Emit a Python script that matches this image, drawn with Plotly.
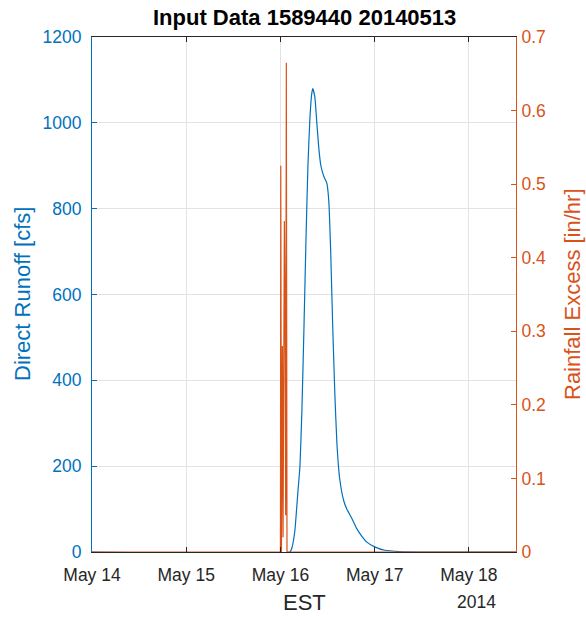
import plotly.graph_objects as go

# ---- data ----
runoff_time = [
    "2014-05-14 00:00", "2014-05-16 02:24", "2014-05-16 02:56", "2014-05-16 03:41",
    "2014-05-16 04:12", "2014-05-16 04:27", "2014-05-16 04:58", "2014-05-16 05:28",
    "2014-05-16 05:59", "2014-05-16 06:29", "2014-05-16 07:00", "2014-05-16 07:30",
    "2014-05-16 08:00", "2014-05-16 08:15", "2014-05-16 08:46", "2014-05-16 09:16",
    "2014-05-16 09:47", "2014-05-16 10:18", "2014-05-16 11:03", "2014-05-16 11:48",
    "2014-05-16 12:18", "2014-05-16 12:48", "2014-05-16 13:18", "2014-05-16 13:51",
    "2014-05-16 14:24", "2014-05-16 15:06", "2014-05-16 16:06", "2014-05-16 16:54",
    "2014-05-16 18:12", "2014-05-16 19:24", "2014-05-16 20:42", "2014-05-16 22:00",
    "2014-05-17 00:00", "2014-05-17 02:36", "2014-05-17 06:24", "2014-05-17 11:30",
    "2014-05-18 12:00",
]
runoff_cfs = [
    0, 0, 10, 50,
    110, 140, 200, 330,
    520, 720, 900, 1010,
    1070, 1080, 1060, 1000,
    940, 900, 875, 860,
    820, 700, 530, 370,
    250, 170, 120, 100,
    78, 55, 37, 23,
    12, 4, 1, 0,
    0,
]

rain_time = [
    "2014-05-14 00:00", "2014-05-16 00:00", "2014-05-16 00:05", "2014-05-16 00:15",
    "2014-05-16 00:30", "2014-05-16 00:40", "2014-05-16 01:00", "2014-05-16 01:10",
    "2014-05-16 01:20", "2014-05-16 01:30", "2014-05-16 01:40", "2014-05-18 12:00",
]
rain_excess = [0, 0, 0.525, 0.0, 0.28, 0.02, 0.45, 0.33, 0.05, 0.665, 0.0, 0]

x_tick_vals = ["2014-05-14", "2014-05-15", "2014-05-16", "2014-05-17", "2014-05-18"]
x_tick_text = ["May 14", "May 15", "May 16", "May 17", "May 18"]
y1_ticks = [0, 200, 400, 600, 800, 1000, 1200]
y2_ticks = [0, 0.1, 0.2, 0.3, 0.4, 0.5, 0.6, 0.7]

BLUE = "#0072BD"
ORANGE = "#D95319"
DARK = "#262626"
FONT = "Liberation Sans, Arial, sans-serif"
TICK = 17.5
LAB = 22

W, H = 586, 617
L, R, T, B = 92, 70, 37, 65
pw, ph = W - L - R, H - T - B


def px(x):
    return (x - L) / pw


def py(y):
    return (H - B - y) / ph


fig = go.Figure()
fig.add_trace(go.Scatter(x=rain_time, y=rain_excess, yaxis="y2", mode="lines",
                         line=dict(color=ORANGE, width=1.2), showlegend=False))
fig.add_trace(go.Scatter(x=runoff_time, y=runoff_cfs, yaxis="y", mode="lines",
                         line=dict(color=BLUE, width=1.2, shape="spline", smoothing=0.4),
                         showlegend=False))

fig.update_layout(
    width=W, height=H,
    margin=dict(l=L, r=R, t=T, b=B),
    paper_bgcolor="white", plot_bgcolor="white",
    font=dict(family=FONT, size=TICK, color=DARK),
    xaxis=dict(
        type="date", range=["2014-05-14 00:00", "2014-05-18 12:00"],
        tickvals=x_tick_vals, ticktext=x_tick_text,
        ticks="inside", ticklen=5, tickcolor=DARK,
        showline=True, linecolor=DARK, linewidth=1, mirror="ticks",
        showgrid=True, gridcolor="#e3e3e3", gridwidth=1, zeroline=False,
        tickfont=dict(size=TICK, color=DARK), ticklabelstandoff=7, automargin=False,
    ),
    yaxis=dict(
        range=[0, 1200], tickvals=y1_ticks,
        ticks="inside", ticklen=5, tickcolor=BLUE,
        showline=True, linecolor=BLUE, linewidth=1,
        showgrid=True, gridcolor="#e3e3e3", gridwidth=1, zeroline=False,
        tickfont=dict(size=TICK, color=BLUE), ticklabelstandoff=6, automargin=False,
    ),
    yaxis2=dict(
        range=[0, 0.7], tickvals=y2_ticks, overlaying="y", side="right",
        ticks="inside", ticklen=5, tickcolor=ORANGE,
        showline=True, linecolor=ORANGE, linewidth=1,
        showgrid=False, zeroline=False,
        tickfont=dict(size=TICK, color=ORANGE), ticklabelstandoff=1, automargin=False,
    ),
    annotations=[
        dict(text="<b>Input Data 1589440 20140513</b>", xref="paper", yref="paper",
             x=px(304), y=py(17), xanchor="center", yanchor="middle", showarrow=False,
             font=dict(size=LAB, color="black")),
        dict(text="EST", xref="paper", yref="paper", x=px(304), y=py(602),
             xanchor="center", yanchor="middle", showarrow=False,
             font=dict(size=LAB, color=DARK)),
        dict(text="2014", xref="paper", yref="paper", x=px(476), y=py(602),
             xanchor="center", yanchor="middle", showarrow=False,
             font=dict(size=TICK, color=DARK)),
        dict(text="Direct Runoff [cfs]", xref="paper", yref="paper", x=px(22), y=py(294),
             xanchor="center", yanchor="middle", textangle=-90, showarrow=False,
             font=dict(size=LAB, color=BLUE)),
        dict(text="Rainfall Excess [in/hr]", xref="paper", yref="paper", x=px(572), y=py(294),
             xanchor="center", yanchor="middle", textangle=-90, showarrow=False,
             font=dict(size=LAB, color=ORANGE)),
    ],
)

fig.write_html("out.html",
               config={"displayModeBar": False},
               post_script="document.body.style.margin='0px';document.body.style.overflow='hidden';")
